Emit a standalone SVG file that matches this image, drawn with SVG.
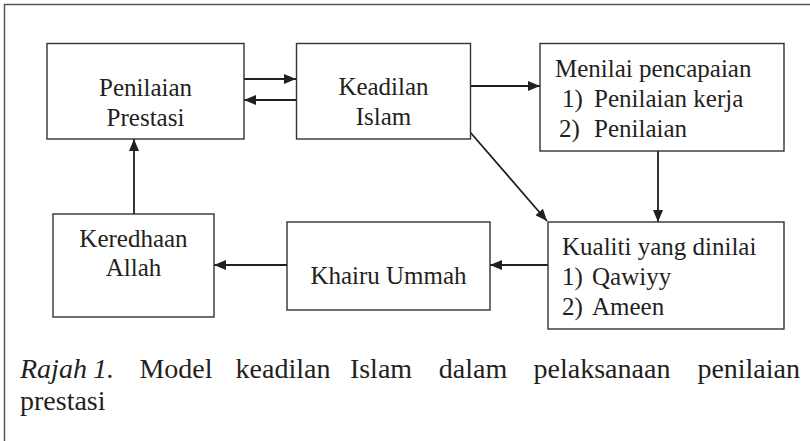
<svg xmlns="http://www.w3.org/2000/svg" width="810" height="441" viewBox="0 0 810 441">
<defs>
<marker id="arr" viewBox="0 0 12 10" refX="12" refY="5" markerWidth="12" markerHeight="10" markerUnits="userSpaceOnUse" orient="auto">
<path d="M0,0 L12,5 L0,10 z" fill="#231f20"/>
</marker>
</defs>
<style>
.box{fill:#ffffff;stroke:#333333;stroke-width:1.4}
.t{font-family:"Liberation Serif","Times New Roman",serif;font-size:25px;fill:#231f20}
.c{text-anchor:middle}
.cap{font-family:"Liberation Serif","Times New Roman",serif;font-size:28px;fill:#231f20}
.ln{stroke:#231f20;stroke-width:1.8;fill:none;marker-end:url(#arr)}
</style>
<rect x="0" y="0" width="810" height="441" fill="#ffffff"/>
<path d="M4.5,450 L4.5,4.5 L812,4.5" fill="none" stroke="#555555" stroke-width="1.5"/>

<g id="connectors">
<line class="ln" x1="244" y1="79" x2="296" y2="79"/>
<line class="ln" x1="296" y1="100" x2="244" y2="100"/>
<line class="ln" x1="470" y1="86" x2="540" y2="86"/>
<line class="ln" x1="470" y1="132" x2="547" y2="221"/>
<line class="ln" x1="658" y1="151" x2="658" y2="222"/>
<line class="ln" x1="548" y1="265" x2="490" y2="265"/>
<line class="ln" x1="287" y1="265" x2="214" y2="265"/>
<line class="ln" x1="134" y1="214" x2="134" y2="139"/>
</g>

<g id="penilaian-prestasi">
<rect class="box" x="47" y="43.5" width="197" height="95.5"/>
<text class="t c" x="145.5" y="96">Penilaian</text>
<text class="t c" x="145.5" y="126">Prestasi</text>
</g>

<g id="keadilan-islam">
<rect class="box" x="296.5" y="43.5" width="174" height="95.5"/>
<text class="t c" x="383.5" y="95">Keadilan</text>
<text class="t c" x="383.5" y="125">Islam</text>
</g>

<g id="menilai-pencapaian">
<rect class="box" x="540" y="43.5" width="244" height="107.5"/>
<text class="t" x="555" y="77">Menilai pencapaian</text>
<text class="t" x="562" y="107">1)</text>
<text class="t" x="594" y="107">Penilaian kerja</text>
<text class="t" x="559" y="137">2)</text>
<text class="t" x="594" y="137">Penilaian</text>
</g>

<g id="kualiti">
<rect class="box" x="548" y="222" width="236" height="107"/>
<text class="t" x="562" y="255">Kualiti yang dinilai</text>
<text class="t" x="562" y="285">1)</text>
<text class="t" x="592" y="285">Qawiyy</text>
<text class="t" x="562" y="315">2)</text>
<text class="t" x="592" y="315">Ameen</text>
</g>

<g id="khairu-ummah">
<rect class="box" x="287" y="222" width="203" height="88"/>
<text class="t c" x="388.5" y="284">Khairu Ummah</text>
</g>

<g id="keredhaan-allah">
<rect class="box" x="53" y="214" width="161" height="103"/>
<text class="t c" x="133.5" y="247">Keredhaan</text>
<text class="t c" x="133.5" y="276">Allah</text>
</g>

<g id="caption">
<text class="cap" y="378"><tspan x="20" font-style="italic">Rajah</tspan><tspan x="93" font-style="italic">1.</tspan><tspan x="176" text-anchor="middle">Model</tspan><tspan x="283" text-anchor="middle">keadilan</tspan><tspan x="381" text-anchor="middle">Islam</tspan><tspan x="473" text-anchor="middle">dalam</tspan><tspan x="602" text-anchor="middle">pelaksanaan</tspan><tspan x="800" text-anchor="end">penilaian</tspan></text>
<text class="cap" x="20" y="410">prestasi</text>
</g>
</svg>
